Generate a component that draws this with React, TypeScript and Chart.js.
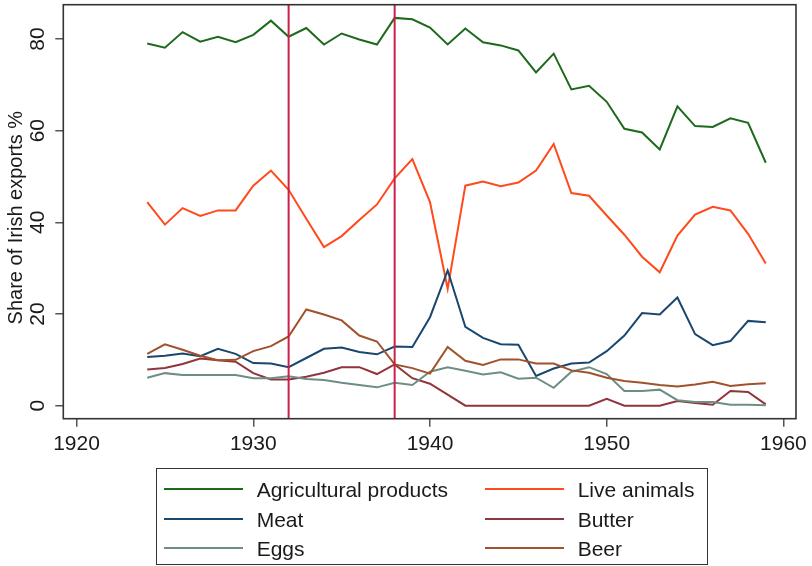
import React, { useEffect, useRef } from "react";
import { Chart, registerables } from "chart.js";

Chart.register(...registerables);

const FONT = "'Liberation Sans', Arial, Helvetica, sans-serif";

const years = [
  1924, 1925, 1926, 1927, 1928, 1929, 1930, 1931, 1932, 1933, 1934, 1935,
  1936, 1937, 1938, 1939, 1940, 1941, 1942, 1943, 1944, 1945, 1946, 1947,
  1948, 1949, 1950, 1951, 1952, 1953, 1954, 1955, 1956, 1957, 1958, 1959,
];

const agriculturalProducts = [
  79.0, 78.1, 81.5, 79.4, 80.5, 79.3, 80.9, 84.0, 80.5, 82.4, 78.8, 81.2,
  79.9, 78.8, 84.6, 84.3, 82.5, 78.8, 82.3, 79.3, 78.6, 77.5, 72.7, 76.8,
  69.0, 69.8, 66.3, 60.4, 59.6, 55.9, 65.3, 61.0, 60.8, 62.7, 61.7, 53.0,
];

const liveAnimals = [
  44.4, 39.5, 43.1, 41.4, 42.6, 42.6, 48.0, 51.3, 47.1, 40.8, 34.6, 37.0,
  40.5, 43.9, 49.6, 53.8, 44.4, 25.5, 48.0, 48.9, 47.9, 48.7, 51.3, 57.1,
  46.4, 45.8, 41.5, 37.3, 32.5, 29.1, 37.1, 41.7, 43.4, 42.6, 37.5, 31.0,
];

const meat = [
  10.6, 10.9, 11.4, 10.8, 12.4, 11.3, 9.3, 9.2, 8.4, 10.4, 12.4, 12.7,
  11.7, 11.2, 12.9, 12.8, 19.3, 29.5, 17.2, 14.8, 13.4, 13.3, 6.5, 8.1,
  9.2, 9.4, 11.9, 15.3, 20.2, 19.9, 23.6, 15.6, 13.2, 14.1, 18.5, 18.2,
];

const butter = [
  7.9, 8.2, 9.1, 10.3, 9.9, 9.6, 7.1, 5.7, 5.7, 6.3, 7.2, 8.4,
  8.4, 6.9, 9.0, 6.0, 4.8, 2.4, 0.0, 0.0, 0.0, 0.0, 0.0, 0.0,
  0.0, 0.0, 1.5, 0.0, 0.0, 0.0, 1.0, 0.6, 0.2, 3.2, 3.0, 0.3,
];

const eggs = [
  6.1, 7.1, 6.7, 6.7, 6.7, 6.7, 6.0, 6.0, 6.4, 5.8, 5.6, 5.0,
  4.5, 4.0, 5.0, 4.5, 7.4, 8.4, 7.6, 6.8, 7.3, 5.9, 6.1, 3.9,
  7.4, 8.4, 6.9, 3.2, 3.2, 3.5, 1.2, 0.8, 0.8, 0.2, 0.2, 0.1,
];

const beer = [
  11.3, 13.4, 12.2, 10.9, 9.9, 10.0, 11.9, 13.0, 15.1, 21.0, 19.9, 18.6,
  15.3, 14.0, 9.0, 8.2, 7.0, 12.8, 9.8, 8.9, 10.1, 10.1, 9.2, 9.2,
  7.7, 7.2, 6.1, 5.4, 5.0, 4.5, 4.2, 4.6, 5.2, 4.3, 4.7, 4.9,
];

const seriesNames = ["Agricultural products", "Live animals", "Meat", "Butter", "Eggs", "Beer"];
const seriesValues = [agriculturalProducts, liveAnimals, meat, butter, eggs, beer];
const seriesColors = ["#1d6a1d", "#ff4a1c", "#1a476f", "#90353b", "#6e8e84", "#a0522d"];

const xTicks = [1920, 1930, 1940, 1950, 1960];
const yTicks = [0, 20, 40, 60, 80];
const referenceYears = [1932, 1938];
const yTitle = "Share of Irish exports %";

const framePlugin = {
  id: "frameAndRefs",
  afterDatasetsDraw(chart: any) {
    const { ctx, chartArea: a, scales } = chart;
    const xs = scales.x;
    const ys = scales.y;
    ctx.save();
    ctx.strokeStyle = "#cc1f4a";
    ctx.lineWidth = 2;
    referenceYears.forEach((v) => {
      const px = xs.getPixelForValue(v);
      ctx.beginPath();
      ctx.moveTo(px, a.top);
      ctx.lineTo(px, a.bottom);
      ctx.stroke();
    });
    ctx.strokeStyle = "#333333";
    ctx.lineWidth = 1.6;
    ctx.strokeRect(a.left, a.top, a.right - a.left, a.bottom - a.top);
    ctx.fillStyle = "#1a1a1a";
    ctx.font = "21px " + FONT;
    ctx.textAlign = "center";
    ctx.textBaseline = "middle";
    ys.ticks.forEach((t: any) => {
      const py = ys.getPixelForValue(t.value);
      ctx.save();
      ctx.translate(a.left - 25, py);
      ctx.rotate(-Math.PI / 2);
      ctx.fillText(String(t.value), 0, 0);
      ctx.restore();
    });
    ctx.font = "20px " + FONT;
    ctx.save();
    ctx.translate(16, (a.top + a.bottom) / 2 + 6);
    ctx.rotate(-Math.PI / 2);
    ctx.fillText(yTitle, 0, 0);
    ctx.restore();
    ctx.restore();
  },
};

export default function App() {
  const ref = useRef<HTMLCanvasElement>(null);

  useEffect(() => {
    const chart = new Chart(ref.current as HTMLCanvasElement, {
      type: "line",
      data: {
        datasets: seriesNames.map((name, i) => ({
          label: name,
          data: years.map((yr, j) => ({ x: yr, y: seriesValues[i][j] })),
          borderColor: seriesColors[i],
          backgroundColor: seriesColors[i],
          borderWidth: 2,
          pointRadius: 0,
          tension: 0,
          fill: false,
          order: -i,
        })),
      },
      options: {
        responsive: false,
        maintainAspectRatio: false,
        animation: false,
        layout: { padding: { left: 0, top: 4.7, right: 12, bottom: 107.3 } },
        plugins: { legend: { display: false }, tooltip: { enabled: false } },
        scales: {
          x: {
            type: "linear",
            min: 1919.25,
            max: 1960.71,
            afterBuildTicks: (s: any) => {
              s.ticks = xTicks.map((v) => ({ value: v }));
            },
            afterFit: (s: any) => {
              s.height = 40;
            },
            border: { display: false },
            grid: { display: true, drawOnChartArea: false, drawTicks: true, tickLength: 8, color: "#555555", lineWidth: 1.5 },
            ticks: {
              autoSkip: false,
              maxRotation: 0,
              minRotation: 0,
              padding: 5,
              color: "#1a1a1a",
              font: { family: FONT, size: 21 },
              callback: (v: any) => String(v),
            },
          },
          y: {
            type: "linear",
            min: -2.84,
            max: 87.48,
            afterBuildTicks: (s: any) => {
              s.ticks = yTicks.map((v) => ({ value: v }));
            },
            afterFit: (s: any) => {
              s.width = 63.3;
            },
            border: { display: false },
            grid: { display: true, drawOnChartArea: false, drawTicks: true, tickLength: 8, color: "#555555", lineWidth: 1.5 },
            ticks: { display: false },
            title: { display: false, text: yTitle },
          },
        },
      },
      plugins: [framePlugin],
    } as any);
    return () => chart.destroy();
  }, []);

  const rowY = [19.4, 49.7, 78.4];

  return (
    <div style={{ position: "fixed", left: 0, top: 0, width: 812, height: 566, background: "#ffffff", fontFamily: FONT }}>
      <canvas ref={ref} width={812} height={566} style={{ position: "absolute", left: 0, top: 0, width: 812, height: 566 }} />
      <div
        style={{
          position: "absolute",
          left: 155.7,
          top: 468.3,
          width: 552,
          height: 96.5,
          border: "1.5px solid #333333",
          boxSizing: "border-box",
        }}
      >
        {seriesNames.map((name, i) => {
          const col = i % 2;
          const row = Math.floor(i / 2);
          return (
            <React.Fragment key={name}>
              <div
                style={{
                  position: "absolute",
                  left: col === 0 ? 7.5 : 328.5,
                  top: rowY[row] - 1,
                  width: 78.5,
                  height: 2,
                  background: seriesColors[i],
                }}
              />
              <div
                style={{
                  position: "absolute",
                  left: col === 0 ? 100 : 421,
                  top: rowY[row],
                  transform: "translateY(-50%)",
                  fontSize: 21,
                  lineHeight: 1,
                  color: "#1a1a1a",
                  whiteSpace: "nowrap",
                }}
              >
                {name}
              </div>
            </React.Fragment>
          );
        })}
      </div>
    </div>
  );
}
